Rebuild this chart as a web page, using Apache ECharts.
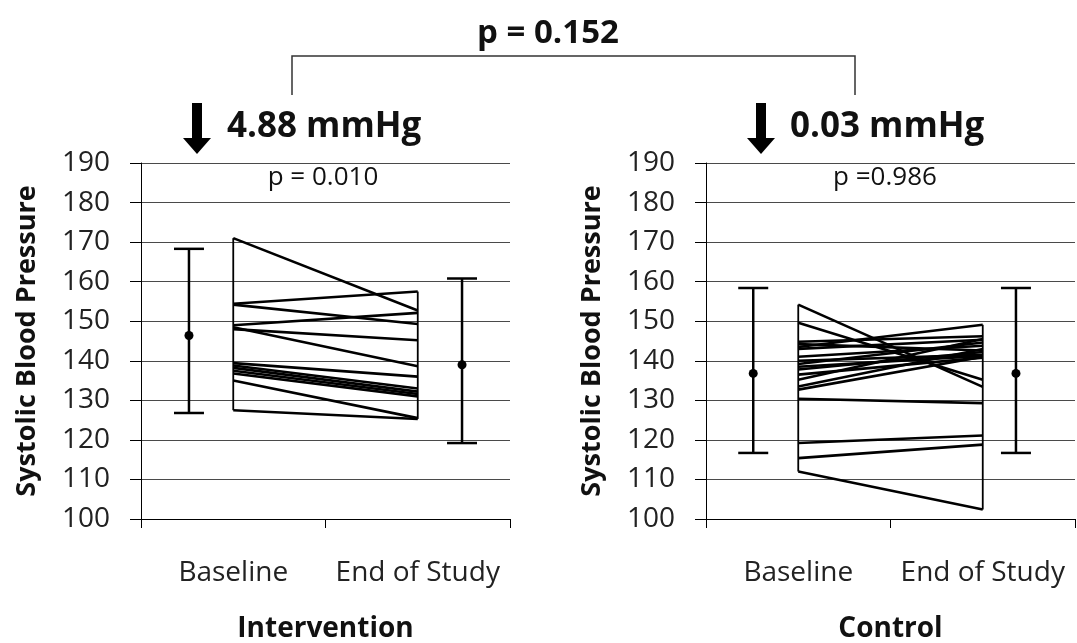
<!DOCTYPE html>
<html>
<head>
<meta charset="utf-8">
<script src="https://cdn.jsdelivr.net/npm/echarts@6/dist/echarts.min.js"></script>
<style>
html, body { margin: 0; padding: 0; background: #fff; }
#main { width: 1077px; height: 643px; }
</style>
</head>
<body>
<div id="main"></div>
<script>
// x categories and y range
var categories = ['Baseline', 'End of Study'];
var yMin = 100, yMax = 190, yStep = 10;

// Intervention: each participant baseline -> end of study
var intBaseline = [171.0, 154.4, 154.2, 149.0, 148.0, 148.5, 139.4, 138.8, 138.2, 137.5, 136.8, 135.0, 127.5];
var intEnd      = [152.7, 157.5, 149.3, 152.1, 145.2, 138.6, 136.0, 133.0, 132.2, 131.6, 131.0, 125.5, 125.3];

// Control
var ctlBaseline = [154.2, 149.6, 143.5, 144.8, 144.2, 143.0, 141.0, 140.0, 139.2, 138.5, 137.8, 136.5, 135.2, 133.5, 132.7, 130.4, 119.2, 115.4, 112.0];
var ctlEnd      = [133.4, 135.2, 149.1, 146.2, 142.6, 145.3, 143.8, 141.5, 144.6, 141.2, 142.2, 140.8, 145.5, 143.0, 141.0, 129.3, 121.1, 118.8, 102.4];

// mean and error bars: [low, mean, high] for baseline, end
var intErrBase = [126.8, 146.4, 168.3];
var intErrEnd  = [119.2, 139.0, 160.8];
var ctlErrBase = [116.7, 136.8, 158.4];
var ctlErrEnd  = [116.7, 136.8, 158.4];

var groupNames = ['Intervention', 'Control'];
var changeText = ['4.88 mmHg', '0.03 mmHg'];
var withinP = ['p = 0.010', 'p =0.986'];
var betweenP = 'p = 0.152';

var myChart = echarts.init(document.getElementById('main'));
var FONT = '"Open Sans", sans-serif';

function renderErr(params, api) {
    var x = api.value(0);
    var lo = api.coord([x, api.value(1)]);
    var mid = api.coord([x, api.value(2)]);
    var hi = api.coord([x, api.value(3)]);
    var w = 15;
    var st = { stroke: '#000', lineWidth: 2.5 };
    return {
        type: 'group',
        children: [
            { type: 'line', shape: { x1: lo[0], y1: lo[1], x2: hi[0], y2: hi[1] }, style: st },
            { type: 'line', shape: { x1: lo[0] - w, y1: lo[1], x2: lo[0] + w, y2: lo[1] }, style: st },
            { type: 'line', shape: { x1: hi[0] - w, y1: hi[1], x2: hi[0] + w, y2: hi[1] }, style: st },
            { type: 'circle', shape: { cx: mid[0], cy: mid[1], r: 4.5 }, style: { fill: '#000' } }
        ]
    };
}

var grids = [
    { left: 141, right: 567, top: 163, bottom: 124, outerBoundsMode: 'none', containLabel: false },
    { left: 706, right: 2, top: 163, bottom: 124, outerBoundsMode: 'none', containLabel: false }
];
var xAxes = [], yAxes = [], series = [];
var panels = [
    { base: intBaseline, end: intEnd, errB: intErrBase, errE: intErrEnd, errX: [0.26, 1.74] },
    { base: ctlBaseline, end: ctlEnd, errB: ctlErrBase, errE: ctlErrEnd, errX: [0.256, 1.68] }
];

panels.forEach(function (p, i) {
    xAxes.push({
        type: 'category', gridIndex: i, data: categories, boundaryGap: true,
        name: groupNames[i], nameLocation: 'middle', nameGap: 96,
        nameTextStyle: { fontFamily: FONT, fontSize: 28, fontWeight: 'bold', color: '#111' },
        axisLine: { lineStyle: { color: '#000', width: 1 } },
        axisTick: { show: true, length: 9, lineStyle: { color: '#000' } },
        axisLabel: { fontFamily: FONT, fontSize: 28, color: '#222', margin: 40, interval: 0 },
        splitLine: { show: false }
    });
    xAxes.push({
        type: 'value', gridIndex: i, min: 0, max: 2, show: false
    });
    yAxes.push({
        type: 'value', gridIndex: i, min: yMin, max: yMax, interval: yStep,
        name: 'Systolic Blood Pressure', nameLocation: 'middle', nameGap: 100,
        nameTextStyle: { fontFamily: FONT, fontSize: 27, fontWeight: 'bold', color: '#111' },
        axisLine: { show: true, lineStyle: { color: '#000', width: 1 } },
        axisTick: { show: true, length: 11, lineStyle: { color: '#000' } },
        axisLabel: { fontFamily: FONT, fontSize: 28, color: '#222', margin: 31 },
        splitLine: { show: true, lineStyle: { color: '#4a4a4a', width: 1 } }
    });
    var vx = i * 2 + 1;
    p.base.forEach(function (b, k) {
        series.push({
            type: 'line', xAxisIndex: vx, yAxisIndex: i,
            data: [[0.5, b], [1.5, p.end[k]]],
            symbol: 'none', silent: true,
            lineStyle: { color: '#000', width: 2.6 }
        });
    });
    // high-low lines at each time point
    [[0.5, p.base], [1.5, p.end]].forEach(function (c) {
        series.push({
            type: 'line', xAxisIndex: vx, yAxisIndex: i,
            data: [[c[0], Math.min.apply(null, c[1])], [c[0], Math.max.apply(null, c[1])]],
            symbol: 'none', silent: true,
            lineStyle: { color: '#000', width: 1.8 }
        });
    });
    series.push({
        type: 'custom', xAxisIndex: vx, yAxisIndex: i,
        renderItem: renderErr,
        encode: { x: 0, y: [1, 2, 3] },
        data: [[p.errX[0]].concat(p.errB), [p.errX[1]].concat(p.errE)],
        silent: true
    });
});

function arrow(cx) {
    return {
        type: 'polygon',
        shape: { points: [[cx - 5, 103], [cx + 5, 103], [cx + 5, 138], [cx + 14, 138], [cx, 154], [cx - 14, 138], [cx - 5, 138]] },
        style: { fill: '#000' }
    };
}
function txt(x, y, s, size, bold, align) {
    return {
        type: 'text', x: x, y: y,
        style: {
            text: s, fontFamily: FONT, fontSize: size, fontWeight: bold ? 'bold' : 'normal',
            fill: '#111', align: align || 'center', verticalAlign: 'middle'
        }
    };
}

var option = {
    animation: false,
    backgroundColor: '#fff',
    grid: grids,
    xAxis: xAxes,
    yAxis: yAxes,
    series: series,
    graphic: [
        txt(548, 34, betweenP, 33, true),
        {
            type: 'polyline',
            shape: { points: [[292, 95], [292, 56], [855, 56], [855, 95]] },
            style: { stroke: '#333', lineWidth: 1.5, fill: null }
        },
        arrow(197),
        arrow(761),
        txt(227, 127, changeText[0], 35, true, 'left'),
        txt(790, 127, changeText[1], 35, true, 'left'),
        txt(323, 178, withinP[0], 26, false),
        txt(885, 178, withinP[1], 26, false)
    ]
};
myChart.setOption(option);
</script>
</body>
</html>
